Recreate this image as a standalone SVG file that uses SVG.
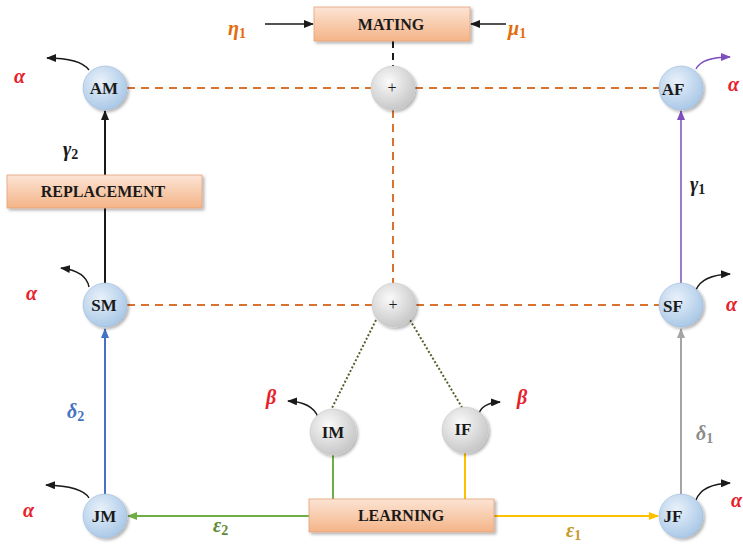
<svg xmlns="http://www.w3.org/2000/svg" width="743" height="549" viewBox="0 0 743 549">
<style>
.box{fill:url(#boxg);stroke:#E3A27A;stroke-width:0.8;filter:url(#sh)}
.bt{font-family:"Liberation Serif",serif;font-weight:bold;font-size:16px;fill:#1a1a1a;text-anchor:middle}
.nb{fill:url(#blue);stroke:#9CB9D9;stroke-width:0.6;filter:url(#sh)}
.ng{fill:url(#gray);stroke:#C8C8C8;stroke-width:0.6;filter:url(#sh)}
.nt{font-family:"Liberation Serif",serif;font-weight:bold;font-size:17px;fill:#1a1a1a;text-anchor:middle}
.pl{font-family:"Liberation Serif",serif;font-size:16px;fill:#1a1a1a;text-anchor:middle}
.g{font-family:"Liberation Serif",serif;font-style:italic;font-weight:bold;font-size:20px}
.s{font-size:14px;font-style:normal}
.od{stroke:#D9712F;stroke-width:2;stroke-dasharray:8,6;fill:none}
.cv{fill:none;stroke:#1a1a1a;stroke-width:1.4}
</style>
<defs>
<linearGradient id="boxg" x1="0" y1="0" x2="0" y2="1"><stop offset="0" stop-color="#FCE4D4"/><stop offset="1" stop-color="#F4B487"/></linearGradient>
<radialGradient id="blue" cx="0.4" cy="0.35" r="0.7"><stop offset="0" stop-color="#E9F1FA"/><stop offset="1" stop-color="#A6C6E6"/></radialGradient>
<radialGradient id="gray" cx="0.4" cy="0.35" r="0.7"><stop offset="0" stop-color="#FAFAFA"/><stop offset="1" stop-color="#C4C4C4"/></radialGradient>
<filter id="sh" x="-20%" y="-20%" width="150%" height="150%"><feDropShadow dx="2" dy="2" stdDeviation="1.5" flood-color="#000" flood-opacity="0.3"/></filter>
<marker id="ak" markerWidth="10" markerHeight="8" refX="9" refY="4" orient="auto" markerUnits="userSpaceOnUse"><path d="M0,0 L10,4 L0,8 z" fill="#1a1a1a"/></marker>
<marker id="ab" markerWidth="10" markerHeight="8" refX="9" refY="4" orient="auto" markerUnits="userSpaceOnUse"><path d="M0,0 L10,4 L0,8 z" fill="#4472C4"/></marker>
<marker id="agn" markerWidth="10" markerHeight="8" refX="9" refY="4" orient="auto" markerUnits="userSpaceOnUse"><path d="M0,0 L10,4 L0,8 z" fill="#70AD47"/></marker>
<marker id="ay" markerWidth="10" markerHeight="8" refX="9" refY="4" orient="auto" markerUnits="userSpaceOnUse"><path d="M0,0 L10,4 L0,8 z" fill="#FFC000"/></marker>
<marker id="agr" markerWidth="10" markerHeight="8" refX="9" refY="4" orient="auto" markerUnits="userSpaceOnUse"><path d="M0,0 L10,4 L0,8 z" fill="#A5A5A5"/></marker>
<marker id="ap" markerWidth="10" markerHeight="8" refX="9" refY="4" orient="auto" markerUnits="userSpaceOnUse"><path d="M0,0 L10,4 L0,8 z" fill="#7F4FBF"/></marker>
</defs>
<rect width="743" height="549" fill="#fff"/>
<g id="connectors">
<line class="od" x1="127" y1="88" x2="371" y2="88"/>
<line class="od" x1="415" y1="88" x2="659" y2="88"/>
<line class="od" x1="127" y1="305" x2="372" y2="305"/>
<line class="od" x1="416" y1="305" x2="659" y2="305"/>
<line class="od" x1="393" y1="110" x2="393" y2="283"/>
<line x1="393" y1="41" x2="393" y2="66" stroke="#1a1a1a" stroke-width="2" stroke-dasharray="7,5"/>
<line x1="265" y1="24" x2="313" y2="24" stroke="#1a1a1a" stroke-width="1.4" marker-end="url(#ak)"/>
<line x1="506" y1="24" x2="471" y2="24" stroke="#1a1a1a" stroke-width="1.4" marker-end="url(#ak)"/>
<line x1="105" y1="283" x2="105" y2="111" stroke="#1a1a1a" stroke-width="2" marker-end="url(#ak)"/>
<line x1="105" y1="494" x2="105" y2="329" stroke="#4472C4" stroke-width="2" marker-end="url(#ab)"/>
<line x1="681" y1="494" x2="681" y2="329" stroke="#A5A5A5" stroke-width="2" marker-end="url(#agr)"/>
<line x1="681" y1="283" x2="681" y2="111" stroke="#7F4FBF" stroke-width="1.5" marker-end="url(#ap)"/>
<polyline points="333,455 333,499" fill="none" stroke="#70AD47" stroke-width="2"/>
<line x1="309" y1="516" x2="128" y2="516" stroke="#70AD47" stroke-width="2" marker-end="url(#agn)"/>
<polyline points="465,453 465,499" fill="none" stroke="#FFC000" stroke-width="2"/>
<line x1="494" y1="516" x2="658" y2="516" stroke="#FFC000" stroke-width="2" marker-end="url(#ay)"/>
<line x1="376" y1="320" x2="332" y2="408" stroke="#4F6228" stroke-width="2" stroke-dasharray="2,2"/>
<line x1="410" y1="320" x2="463" y2="409" stroke="#4F6228" stroke-width="2" stroke-dasharray="2,2"/>
<path class="cv" d="M89,70 Q80,58 47,58" marker-end="url(#ak)"/>
<path class="cv" d="M89,287 Q86,271 61,268" marker-end="url(#ak)"/>
<path class="cv" d="M89,498 Q82,486 46,485" marker-end="url(#ak)"/>
<path class="cv" d="M318,417 Q312,402 288,401" marker-end="url(#ak)"/>
<path class="cv" d="M478,417 Q480,403 500,402" marker-end="url(#ak)"/>
<path d="M696,69 Q702,57 730,57" fill="none" stroke="#7F4FBF" stroke-width="1.4" marker-end="url(#ap)"/>
<path class="cv" d="M696,290 Q702,275 730,274" marker-end="url(#ak)"/>
<path class="cv" d="M696,500 Q702,484 730,483" marker-end="url(#ak)"/>
</g>
<g id="mating"><rect class="box" x="314" y="7" width="156" height="34"/><text class="bt" x="391" y="30">MATING</text></g>
<g id="replacement"><rect class="box" x="7" y="175" width="195" height="33"/><text class="bt" x="103" y="197">REPLACEMENT</text></g>
<g id="learning"><rect class="box" x="309" y="499" width="185" height="33"/><text class="bt" x="401" y="521">LEARNING</text></g>
<g id="AM"><circle class="nb" cx="105" cy="88" r="22"/><text class="nt" x="104" y="94">AM</text></g>
<g id="AF"><circle class="nb" cx="681" cy="88" r="22"/><text class="nt" x="673" y="95">AF</text></g>
<g id="SM"><circle class="nb" cx="105" cy="305" r="22"/><text class="nt" x="104" y="311">SM</text></g>
<g id="SF"><circle class="nb" cx="681" cy="305" r="22"/><text class="nt" x="673" y="312">SF</text></g>
<g id="JM"><circle class="nb" cx="105" cy="516" r="22"/><text class="nt" x="104" y="522">JM</text></g>
<g id="JF"><circle class="nb" cx="681" cy="516" r="22"/><text class="nt" x="673" y="522">JF</text></g>
<g id="plus1"><circle class="ng" cx="393" cy="88" r="22"/><text class="pl" x="392" y="93">+</text></g>
<g id="plus2"><circle class="ng" cx="394" cy="305" r="22"/><text class="pl" x="393" y="310">+</text></g>
<g id="IM"><circle class="ng" cx="333" cy="432" r="23"/><text class="nt" x="333" y="438">IM</text></g>
<g id="IF"><circle class="ng" cx="465" cy="430" r="23"/><text class="nt" x="463" y="435">IF</text></g>
<g id="labels">
<text class="g" x="14" y="83" fill="#E8202A">α</text>
<text class="g" x="26" y="300" fill="#E8202A">α</text>
<text class="g" x="23" y="517" fill="#E8202A">α</text>
<text class="g" x="728" y="91" fill="#E8202A">α</text>
<text class="g" x="726" y="311" fill="#E8202A">α</text>
<text class="g" x="731" y="507" fill="#E8202A">α</text>
<text class="g" x="266" y="404" fill="#E8202A">β</text>
<text class="g" x="517" y="404" fill="#E8202A">β</text>
<text class="g" x="63" y="156" fill="#1a1a1a">γ<tspan class="s" dy="3">2</tspan></text>
<text class="g" x="690" y="191" fill="#1a1a1a">γ<tspan class="s" dy="3">1</tspan></text>
<text class="g" x="67" y="418" fill="#4472C4">δ<tspan class="s" dy="3">2</tspan></text>
<text class="g" x="696" y="440" fill="#8C8C8C">δ<tspan class="s" dy="3">1</tspan></text>
<text class="g" x="213" y="532" fill="#5F8A35">ε<tspan class="s" dy="3">2</tspan></text>
<text class="g" x="566" y="537" fill="#C59A2A">ε<tspan class="s" dy="3">1</tspan></text>
<text class="g" x="228" y="35" fill="#E46C0A">η<tspan class="s" dy="3">1</tspan></text>
<text class="g" x="508" y="35" fill="#E46C0A">μ<tspan class="s" dy="3">1</tspan></text>
</g>
</svg>
